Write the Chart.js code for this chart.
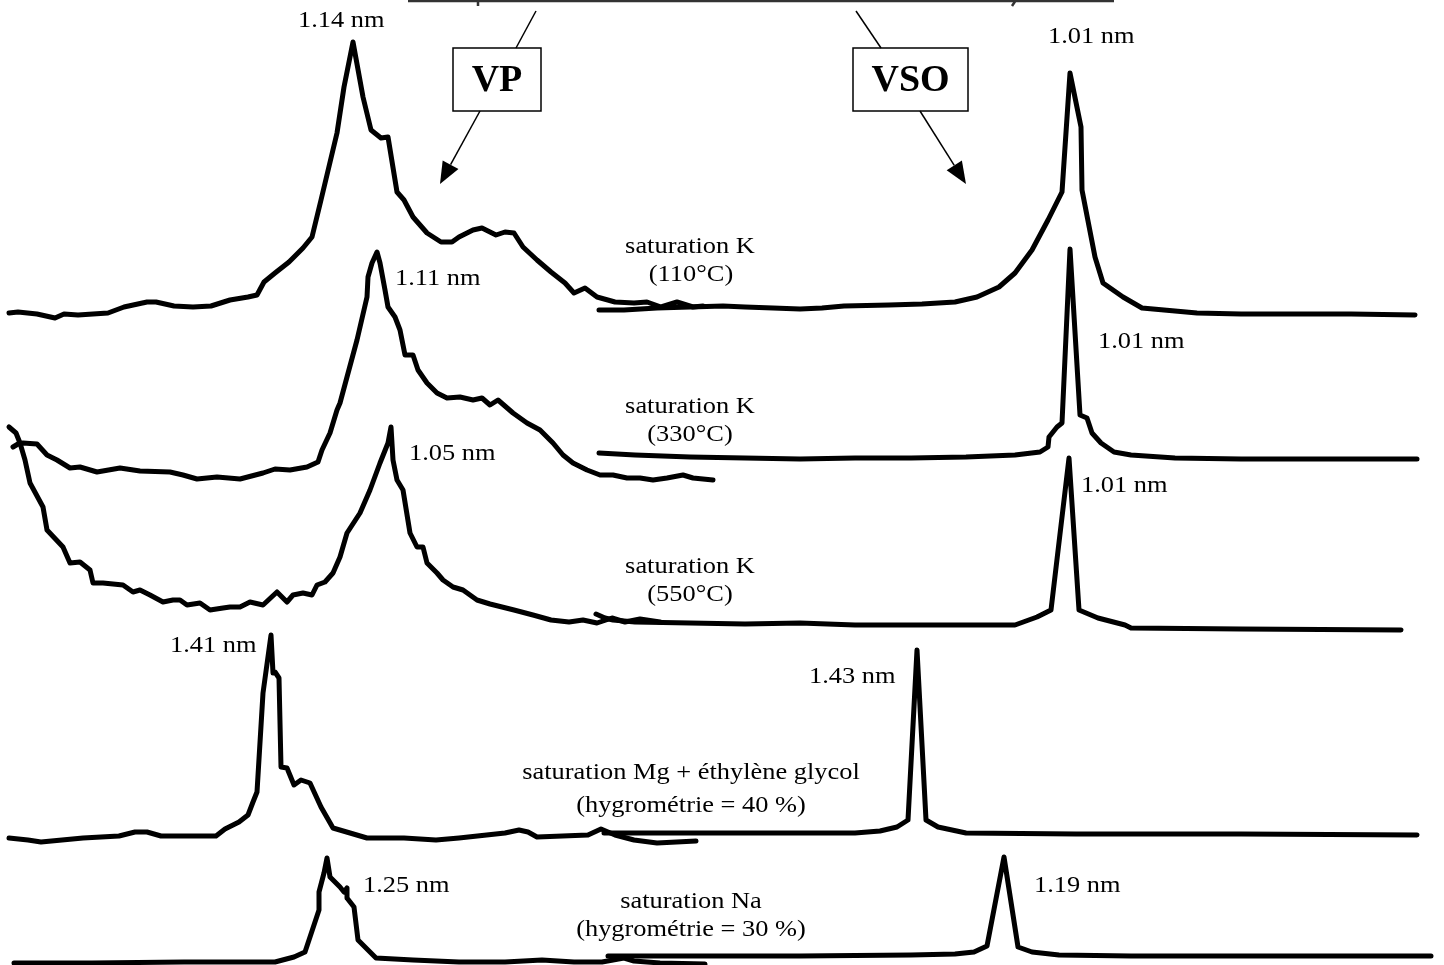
<!DOCTYPE html>
<html>
<head>
<meta charset="utf-8">
<title>Diffractogrammes VP / VSO</title>
<script src="https://cdn.jsdelivr.net/npm/chart.js@4/dist/chart.umd.min.js"></script>
<style>
  html, body { margin: 0; padding: 0; background: #fff; overflow: hidden; }
  #wrap { width: 1444px; height: 965px; }
</style>
</head>
<body>
<div id="wrap"><canvas id="xrd" width="1444" height="965"></canvas></div>
<script>
// traces: [position, height on page] (y grows downward)
// VP traces (left), VSO traces (right), top to bottom
const vp110 = [[9,313],[18,312],[37,314],[55,318],[64,314],[78,315],[108,313],[124,307],[147,302],[156,302],[174,306],[193,307],[211,306],[230,300],[248,297],[257,295],[264,282],[275,273],[289,262],[303,248],[312,237],[321,200],[337,133],[344,87],[353,42],[363,97],[371,130],[381,138],[388,137],[397,192],[404,200],[413,217],[427,233],[441,242],[452,242],[459,237],[473,230],[482,228],[496,235],[505,232],[514,233],[523,247],[537,260],[551,272],[565,283],[574,293],[585,288],[597,297],[615,302],[634,303],[647,302],[661,307],[677,302],[693,307],[703,306]];
const vso110 = [[599,310],[624,310],[657,308],[690,307],[723,306],[745,307],[773,308],[800,309],[822,308],[844,306],[889,305],[922,304],[955,302],[977,297],[999,287],[1015,273],[1032,250],[1048,220],[1062,192],[1070,73],[1081,127],[1082,190],[1095,257],[1103,283],[1123,297],[1142,308],[1164,310],[1197,313],[1241,314],[1296,314],[1351,314],[1415,315]];

const vp330 = [[13,447],[18,444],[23,443],[37,444],[47,455],[57,460],[70,468],[80,467],[97,472],[120,468],[140,471],[170,472],[183,475],[197,479],[217,477],[240,479],[263,473],[275,469],[290,470],[307,467],[318,462],[322,450],[330,433],[337,410],[340,403],[347,377],[357,340],[367,297],[368,277],[372,263],[377,252],[380,263],[385,290],[388,307],[395,317],[400,330],[405,355],[413,355],[418,370],[427,383],[437,393],[447,398],[460,397],[473,400],[482,398],[490,405],[498,400],[513,413],[527,423],[540,430],[553,443],[563,455],[573,463],[587,470],[600,475],[613,475],[627,478],[640,478],[653,480],[667,478],[683,475],[693,478],[713,480]];
const vso330 = [[599,453],[635,455],[690,457],[745,458],[800,459],[855,458],[911,458],[966,457],[1015,455],[1040,452],[1048,447],[1049,437],[1057,427],[1062,423],[1070,249],[1080,415],[1087,418],[1092,433],[1101,443],[1114,452],[1131,455],[1175,458],[1241,459],[1324,459],[1417,459]];

const vp550 = [[9,427],[16,433],[20,443],[25,460],[30,483],[43,507],[47,530],[63,547],[70,563],[80,562],[90,570],[93,583],[103,583],[123,585],[133,592],[140,590],[150,595],[163,602],[173,600],[180,600],[187,605],[200,603],[210,610],[223,608],[230,607],[240,607],[250,602],[263,605],[277,592],[287,602],[293,595],[303,593],[312,595],[317,585],[325,582],[333,573],[340,557],[347,533],[360,513],[370,490],[380,463],[388,443],[391,427],[393,460],[397,480],[403,490],[410,533],[417,547],[423,547],[427,563],[437,573],[443,580],[453,587],[463,590],[477,600],[490,604],[514,610],[533,615],[551,620],[569,622],[583,620],[597,623],[612,618],[625,622],[640,619],[660,622]];
const vso550 = [[596,614],[605,618],[613,620],[635,622],[690,623],[745,624],[800,623],[855,625],[911,625],[966,625],[1015,625],[1037,617],[1051,610],[1069,458],[1079,610],[1098,618],[1125,625],[1131,628],[1241,629],[1401,630]];

const vpMg = [[9,838],[28,840],[41,842],[83,838],[119,836],[135,832],[147,832],[161,836],[216,836],[225,829],[239,822],[248,815],[253,802],[257,792],[263,693],[271,635],[273,673],[275,672],[279,678],[281,767],[287,768],[294,785],[301,780],[310,783],[321,807],[333,828],[367,838],[404,838],[436,840],[459,838],[505,833],[519,830],[528,832],[537,837],[588,835],[601,829],[615,835],[634,840],[657,843],[696,841]];
const vsoMg = [[604,833],[635,833],[745,833],[855,833],[880,831],[897,827],[908,820],[917,650],[926,820],[938,827],[966,833],[1076,834],[1241,834],[1417,835]];

const vpNa = [[14,963],[92,963],[184,962],[275,962],[294,957],[305,952],[319,910],[319,892],[324,873],[327,858],[330,877],[340,887],[344,892],[347,888],[347,898],[354,907],[358,940],[376,958],[413,960],[459,962],[505,962],[542,960],[574,962],[602,962],[624,958],[634,961],[660,963],[705,964]];
const vsoNa = [[608,956],[690,956],[800,956],[911,955],[955,954],[974,952],[987,946],[1004,857],[1018,947],[1032,952],[1059,955],[1131,956],[1241,956],[1431,956]];

const traces = [vp110, vso110, vp330, vso330, vp550, vso550, vpMg, vsoMg, vpNa, vsoNa];

// peak labels (left edge, baseline)
const peakLabels = [
  ['1.14 nm', 298, 27], ['1.01 nm', 1048, 43],
  ['1.11 nm', 395, 285], ['1.01 nm', 1098, 348],
  ['1.05 nm', 409, 460], ['1.01 nm', 1081, 492],
  ['1.41 nm', 170, 652], ['1.43 nm', 809, 683],
  ['1.25 nm', 363, 892], ['1.19 nm', 1034, 892]
];
// treatment labels (centre, baseline)
const treatLabels = [
  ['saturation K', 690, 253], ['(110°C)', 691, 281],
  ['saturation K', 690, 413], ['(330°C)', 690, 441],
  ['saturation K', 690, 573], ['(550°C)', 690, 601],
  ['saturation Mg + éthylène glycol', 691, 779], ['(hygrométrie = 40 %)', 691, 812],
  ['saturation Na', 691, 908], ['(hygrométrie = 30 %)', 691, 936]
];
const boxes = [
  { text: 'VP', x0: 453, y0: 48, x1: 541, y1: 111, lead: [536, 11, 516, 48], arrow: [480, 111, 440, 184] },
  { text: 'VSO', x0: 853, y0: 48, x1: 968, y1: 111, lead: [856, 11, 881, 48], arrow: [920, 111, 966, 184] }
];

// the scanned Times text is a bit wider than the installed serif
const textStretch = 1.1;

const decor = {
  id: 'decor',
  beforeDraw(chart) {
    const ctx = chart.ctx;
    ctx.save();
    ctx.fillStyle = '#fff';
    ctx.fillRect(0, 0, chart.width, chart.height);
    ctx.restore();
  },
  afterDatasetsDraw(chart) {
    const ctx = chart.ctx;
    const px = v => chart.scales.x.getPixelForValue(v);
    const py = v => chart.scales.y.getPixelForValue(v);
    ctx.save();

    // cut-off title underline at the top
    ctx.strokeStyle = '#333';
    ctx.lineWidth = 2.5;
    ctx.beginPath();
    ctx.moveTo(px(408), py(1)); ctx.lineTo(px(1114), py(1));
    ctx.moveTo(px(478), py(0)); ctx.lineTo(px(478), py(6));
    ctx.moveTo(px(1016), py(0)); ctx.lineTo(px(1012), py(6));
    ctx.stroke();

    // VP / VSO boxes with arrows
    boxes.forEach(b => {
      ctx.strokeStyle = '#000';
      ctx.lineWidth = 1.5;
      ctx.fillStyle = '#fff';
      ctx.fillRect(px(b.x0), py(b.y0), px(b.x1) - px(b.x0), py(b.y1) - py(b.y0));
      ctx.strokeRect(px(b.x0), py(b.y0), px(b.x1) - px(b.x0), py(b.y1) - py(b.y0));
      ctx.beginPath();
      ctx.moveTo(px(b.lead[0]), py(b.lead[1])); ctx.lineTo(px(b.lead[2]), py(b.lead[3]));
      ctx.stroke();

      const [ax, ay, tx, ty] = b.arrow.map((v, i) => i % 2 ? py(v) : px(v));
      const ang = Math.atan2(ty - ay, tx - ax);
      const len = 22, half = 9;
      const bx = tx - len * Math.cos(ang), by = ty - len * Math.sin(ang);
      ctx.beginPath();
      ctx.moveTo(ax, ay); ctx.lineTo(bx, by);
      ctx.stroke();
      ctx.fillStyle = '#000';
      ctx.beginPath();
      ctx.moveTo(tx, ty);
      ctx.lineTo(bx + half * Math.sin(ang), by - half * Math.cos(ang));
      ctx.lineTo(bx - half * Math.sin(ang), by + half * Math.cos(ang));
      ctx.closePath();
      ctx.fill();

      ctx.font = 'bold 38px "Liberation Serif", "Times New Roman", serif';
      ctx.textAlign = 'center';
      ctx.textBaseline = 'middle';
      ctx.fillText(b.text, (px(b.x0) + px(b.x1)) / 2, (py(b.y0) + py(b.y1)) / 2 + 2);
    });

    // labels
    const put = (t, x, y, align) => {
      ctx.save();
      ctx.translate(px(x), py(y));
      ctx.scale(textStretch, 1);
      ctx.textAlign = align;
      ctx.fillText(t, 0, 0);
      ctx.restore();
    };
    ctx.fillStyle = '#000';
    ctx.font = '24px "Liberation Serif", "Times New Roman", serif';
    ctx.textBaseline = 'alphabetic';
    peakLabels.forEach(([t, x, y]) => put(t, x, y, 'left'));
    treatLabels.forEach(([t, x, y]) => put(t, x, y, 'center'));
    ctx.restore();
  }
};

document.addEventListener('DOMContentLoaded', function () {
  const ctx = document.getElementById('xrd').getContext('2d');
  new Chart(ctx, {
    type: 'line',
    data: {
      datasets: traces.map(tr => ({
        data: tr.map(([x, y]) => ({ x: x, y: y })),
        borderColor: '#000',
        borderWidth: 5,
        borderJoinStyle: 'round',
        borderCapStyle: 'round',
        pointRadius: 0,
        tension: 0,
        fill: false
      }))
    },
    options: {
      responsive: false,
      animation: false,
      events: [],
      layout: { padding: 0 },
      plugins: { legend: { display: false }, tooltip: { enabled: false } },
      scales: {
        x: { type: 'linear', min: 0, max: 1444, display: false },
        y: { type: 'linear', min: 0, max: 965, reverse: true, display: false }
      }
    },
    plugins: [decor]
  });
});
</script>
</body>
</html>
